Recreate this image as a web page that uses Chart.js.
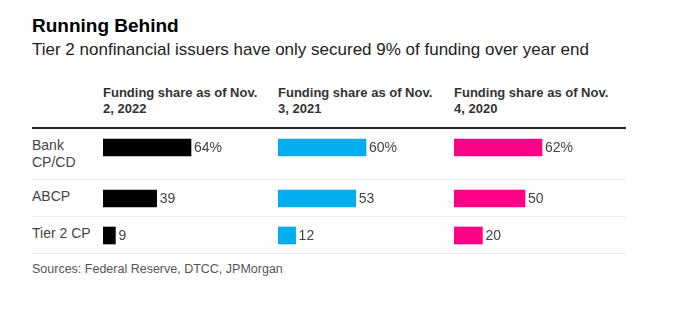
<!DOCTYPE html>
<html>
<head>
<meta charset="utf-8">
<script src="https://cdn.jsdelivr.net/npm/chart.js@4"></script>
<style>
  html, body { margin: 0; padding: 0; background: #fff; }
  body { width: 680px; height: 328px; position: relative; overflow: hidden;
         font-family: "Liberation Sans", Arial, sans-serif; }
  .abs { position: absolute; white-space: nowrap; }
  #title { left: 32px; top: 15px; font-size: 19px; line-height: 22px; font-weight: bold; color: #000; }
  #subtitle { left: 32px; top: 40px; font-size: 17px; line-height: 20px; color: #222; }
  .head { top: 85px; font-size: 13px; line-height: 16px; font-weight: bold; color: #333; }
  #rule { left: 32px; top: 127px; width: 594px; height: 2px; background: #222; }
  .row { position: absolute; left: 32px; width: 594px; border-bottom: 1px solid #ececec; }
  .rowlabel { position: absolute; left: 0; top: 8px; font-size: 14px; line-height: 17px; color: #444; }
  .row canvas { position: absolute; top: 0; }
  #source { left: 32px; top: 262px; font-size: 12.5px; line-height: 15px; color: #555; }
</style>
</head>
<body>
<div id="title" class="abs">Running Behind</div>
<div id="subtitle" class="abs">Tier 2 nonfinancial issuers have only secured 9% of funding over year end</div>
<div id="rule" class="abs"></div>
<div id="source" class="abs">Sources: Federal Reserve, DTCC, JPMorgan</div>

<script>
// categories (rows) and the three snapshot columns
const categories = [['Bank', 'CP/CD'], ['ABCP'], ['Tier 2 CP']];
const columnTitles = [
  ['Funding share as of Nov.', '2, 2022'],
  ['Funding share as of Nov.', '3, 2021'],
  ['Funding share as of Nov.', '4, 2020']
];
const share2022 = [64, 39, 9];
const share2021 = [60, 53, 12];
const share2020 = [62, 50, 20];
const columnColors = ['#000000', '#00aeef', '#ff0087'];

// layout
const colLeft = [103, 278, 454];      // page x where each column's bars start
const rowTop = [129, 180, 217];
const rowHeight = [50, 36, 36];
const CANVAS_W = 170, CANVAS_H = 37, BAR_MAX_W = 88;

const columns = [share2022, share2021, share2020];

// column headers
columnTitles.forEach((lines, c) => {
  const d = document.createElement('div');
  d.className = 'abs head';
  d.style.left = colLeft[c] + 'px';
  d.innerHTML = lines.join('<br>');
  document.body.appendChild(d);
});

// value label right after the end of each bar
const valueLabel = {
  id: 'valueLabel',
  afterDatasetsDraw(chart) {
    const ctx = chart.ctx;
    const ds = chart.data.datasets[0];
    chart.getDatasetMeta(0).data.forEach((bar, i) => {
      ctx.save();
      ctx.font = '14px "Liberation Sans", Arial, sans-serif';
      ctx.fillStyle = '#444';
      ctx.textBaseline = 'middle';
      ctx.textAlign = 'left';
      ctx.fillText(ds.data[i] + (ds.suffix || ''), bar.x + 3, bar.y + 1);
      ctx.restore();
    });
  }
};

categories.forEach((cat, r) => {
  const row = document.createElement('div');
  row.className = 'row';
  row.style.top = rowTop[r] + 'px';
  row.style.height = rowHeight[r] + 'px';
  const lab = document.createElement('div');
  lab.className = 'rowlabel';
  lab.innerHTML = cat.join('<br>');
  row.appendChild(lab);
  document.body.appendChild(row);

  columns.forEach((vals, c) => {
    const cv = document.createElement('canvas');
    cv.width = CANVAS_W;
    cv.height = CANVAS_H;
    cv.style.left = (colLeft[c] - 32) + 'px';
    row.appendChild(cv);
    // each column is scaled to its own largest value
    const xMax = Math.max(...vals) * CANVAS_W / BAR_MAX_W;
    new Chart(cv, {
      type: 'bar',
      data: {
        labels: [cat.join(' ')],
        datasets: [{
          data: [vals[r]],
          suffix: r === 0 ? '%' : '',
          backgroundColor: columnColors[c],
          borderWidth: 0,
          barThickness: 17
        }]
      },
      options: {
        indexAxis: 'y',
        responsive: false,
        animation: false,
        events: [],
        layout: { padding: 0 },
        plugins: { legend: { display: false }, tooltip: { enabled: false } },
        scales: {
          x: { display: false, min: 0, max: xMax },
          y: { display: false }
        }
      },
      plugins: [valueLabel]
    });
  });
});
</script>
</body>
</html>
